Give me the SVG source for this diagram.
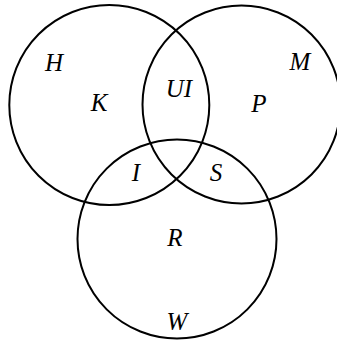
<svg xmlns="http://www.w3.org/2000/svg" width="337" height="343" viewBox="0 0 337 343">
<style>
.c{fill:none;stroke:#000;stroke-width:2}
.t{font-family:"Liberation Serif","Times New Roman",serif;font-style:italic;font-size:25px;fill:#000;text-anchor:middle}
</style>
<rect width="337" height="343" fill="#fff"/>
<g id="sets">
<circle id="circle-left" class="c" cx="109.3" cy="105" r="100"/>
<circle id="circle-right" class="c" cx="241.5" cy="104.5" r="99"/>
<circle id="circle-bottom" class="c" cx="177" cy="239" r="99.5"/>
</g>
<g id="labels">
<text class="t" x="54" y="71">H</text>
<text class="t" x="99" y="111">K</text>
<text class="t" x="179" y="97">UI</text>
<text class="t" x="300" y="70">M</text>
<text class="t" x="259" y="112">P</text>
<text class="t" x="136" y="181">I</text>
<text class="t" x="216" y="181">S</text>
<text class="t" x="175" y="246">R</text>
<text class="t" x="177" y="330">W</text>
</g>
</svg>
